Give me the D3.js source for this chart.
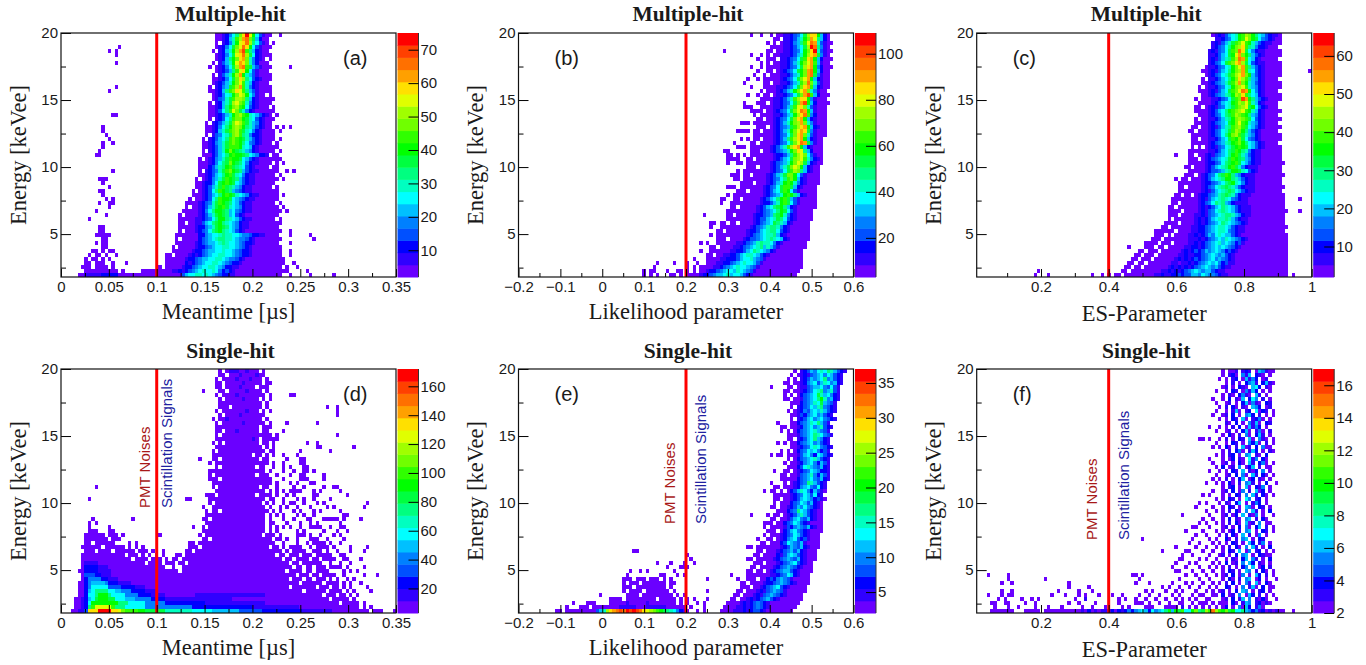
<!DOCTYPE html>
<html>
<head>
<meta charset="utf-8">
<script src="https://cdn.jsdelivr.net/npm/d3@7"></script>
<style>
html, body { margin: 0; padding: 0; background: #fff; overflow: hidden; }
svg { display: block; }
text { fill: #1a1a1a; }
.tick text { font-family: "Liberation Sans", sans-serif; font-size: 15px; }
.ttl { font-family: "Liberation Serif", serif; }
</style>
</head>
<body>
<svg width="1366" height="665"></svg>
<script>
// 20 colour bands of the z palette, bottom to top
var palette = ['#6a00ff','#3000ff','#0000ff','#0050ff','#0080ff','#00c0ff','#00ffff','#00ffc0','#00ff80','#00ff40',
               '#00ff00','#30ff00','#70ff00','#a0ff00','#e0ff00','#ffe000','#ffa000','#ff7000','#ff4000','#ff0000'];

// rows run from E=20 down to E=1.8, tokens are applied left to right:
// "<from>-<to><level>" a run of one band (no letter = a), "<first bin><levels>" a string of bands (. = empty)
var histA = [
"46-62 48bcegimptokgdb 65a",
"46-61 48bcfhlnqrmjfc",
"46-61 48bcehkoprnigdb 63a 47.",
"46-62 47bcegjmorpkgdb 17a",
"45-61 47bcfhknqslifcb 16a 14a 46.",
"46-62 47bcegjoprnjgcb 16a",
"46-62 47bcfikmpqmhecb 61.",
"45-61 47bdfhkoqpmhec 16a 46.",
"44-62 47bcegjnqrljfdb 68a 45.",
"46-61 47bcdfilopkgdb",
"45-62 47bdfhknqkhfdb 46.",
"45-62 47bcegjmpnigdcb",
"45-61 46bcdfhkmolhfcb",
"44-62 46bcefjlnqlhecb 16a 45.",
"44-62 46bcfilmpolifdb 14a",
"45-62 46bceghkmonkgeb 61.",
"45-63 46bdehjlnnmifcb",
"44-62 46bcfhjnomlhecb 45.",
"44-63 46bcfikmnlkgdcb 62.",
"44-63 46bdgilomjhecb",
"44-62 46bcdfhkmnlkhgfdcb 15a 16a 64a",
"44-63 46bcdgilmmkjhgdcb 45.",
"43-62 45bcdfhjmonljhfecb 44.",
"43-64 45bcegikmnmkihfdcb 66a 68a 12a 63.",
"43-63 45bcfhjlmnljhgecb 65a 12a",
"43-63 45bdeghjmnliheccb 13a 44.",
"42-63 44bcdfgilmlkjhfdcb 65a 14a 43.",
"42-64 44bcefhjlmlkigedcb 15a 12a 63.",
"42-64 44bcdfhjlllkhgfcb 12a",
"42-63 44bcdfhkmkjihfecb 65a 11a 43.",
"42-64 45cdfgiklkkjigfeccbb 11a 10a 62.",
"41-64 44bcefhjlkkjgfdcb 65a 42.",
"41-64 44bcegijmkjigecbb 66a 63.",
"41-64 44cdfhikljihgdcb 62.",
"41-64 43bcdehjlmkjifdcbb 15a 67a 69a 42.",
"41-63 43bcdfgikljhgecbb 65a",
"40-64 43bcefhjlkjifdcbb 11a 12a 13a 66a 41.",
"40-63 42bccegjklkjgfdcbb 12a",
"40-64 42bcdfhjljihfecbb 14a 63.",
"39-64 42bcdgilkjifedcbb 11a 12a 40.",
"39-64 42bcdfgiklkjhgfecbb 12a 66a",
"38-64 42bcdgilkkjgfedcbb 13a 15a 39.",
"37-65 41bcdehjlkjigfdcbb 11a 14a 15a 64.",
"37-64 41bcdfhjkljhgfecbb 14a 66a 38.",
"36-65 41bcegikkjifgedcbb 10a 67a",
"35-64 41bcdfhjkjifgdcb 13a 36.",
"35-65 40bbcdegikkihgfdcbb 8a 64.",
"35-65 40bbdfgijkihgfecbb 37.",
"35-64 40bccefhjkjigfecbb 11a 12a",
"35-65 40bcdegijkihgfdcb 11a 12a 68a 36.",
"34-64 41ccefgghihhggfeedccbb 10a 11a 12a 13a 14a 68a 74a",
"34-65 41cdefghiihhgfeedcb 12a 13a 75a 35.",
"34-64 40bcdeffghihggfedccb 10a 12a 13a 68a",
"33-65 40bccdefgghhggfedcb 12a 13a 34.",
"33-65 39bccdeffgghggfedccb 9a 10a 12a 14a 15a 68a",
"31-65 38bcbcdefgghhggfedccb 8a 10a 11a 13a 16a 68a 33.",
"31-66 37bccdeffgghhgfeedcb 7a 9a 10a 12a 14a",
"31-66 37cbcdefgghhgfedccb 7a 8a 10a 11a 12a 15a 19a 69a",
"29-64 36bccdefgghhgfeccbb 6-8 10-13 15a 65a 67a 70a 30.",
"7-9 10-16 18a 24-65 33bbcbcdefghgghgecdcb 66a 67a 73a",
"5-35 7-11b 12-16c 36-65 36dfgghhghgfedccbb 68a 74a 81a"
];

var histB = [
"75-92 79bbcdegjnppkfc 69a 72a 76.",
"76-92 79bbcdfhkmqoifc 78.",
"74-93 79bbcefilorqhdb 75. 77.",
"75-92 79bbcdfgjntrieb",
"74-93 79bbcdegkmpthdb 61a 76.",
"74-92 78bbbcdfhknpqjeb 69a 72a 75.",
"74-93 78bbcdegjlpqkfc 71a 77.",
"74-92 78bbcdfhkmoqlfb 72a 75.",
"74-93 78bbcdegjnpqkec 69a 72a",
"74-92 78bcdegjkmqrkfc 71a 76.",
"73-92 78bbcdfhkmqrjeb 70a 74.",
"73-92 78bcdegjmoqkfcb 68a 71a",
"73-92 78bbcdfhlnrmhdb 67a 75.",
"73-92 77bbcdegjmpqlfcb 69a",
"72-91 77bcdfhkmoqmheb 73.",
"73-92 77bbcdegjmqslfc 68a 71a 75.",
"72-91 76bbcdfhlnppkeb",
"72-92 76bbcdegjmqskfc 67a 71a 74.",
"72-91 76bbcdfilopmhdb 67a 68a 69a",
"72-91 76bcdegjmorqkfb 69-71 73.",
"72-91 76bbcdfhknprlec 70a",
"71-91 76bcdegjmpqkfcb 73.",
"71-91 76bcdfhkmnqmheb 66a 67a 68a 70a",
"71-91 76bcdefjlnpqkfcb 74.",
"71-91 76bcdfhkmoqpjeb 65a 66a 67a 68a 70a 72.",
"70-91 76bcdegjmpqmhdb",
"70-90 76bcdfilnpqkfcb 66a 68a 72.",
"69-90 76bcdegjmorqjeb 64a 71.",
"69-90 75bcdfhlnpqkfcb 65a 66a 67a",
"69-90 75bcdefhkmpoifc 61a 62a 72.",
"69-90 76bccdfilnomgdb 62a 63a 65a 67a",
"68-90 76bcdfgjmnolhecb 62a 63a 64a 65a 70.",
"68-90 75bcdefhkmonjfcb 62a 65a 66a",
"68-89 75bcdfhjmonkfcb 71.",
"67-89 75bcdegjlnmifcb 65a",
"67-89 74bcdfhjmmkgdb 63a 64a 65a 69.",
"67-89 74bcdegilmkfcb 64a 65a",
"66-89 74bcdfhklkhecb 70.",
"66-88 73bcdegjlljfcb 62a 63a 64a",
"65-88 73bcdfgjlkgdb 68.",
"64-88 73bcdefhklkifcb 62a",
"64-88 72bcdfgikljfdb 60a 61a 66.",
"63-88 72bccdfhkljgdb 60a",
"63-88 71bcdfgijkifcb 65.",
"62-87 71bcdefgikjgdb",
"62-87 70bccdefijkhecb 55a 64.",
"62-87 70bcddfghjigdcb",
"60-86 70bcdefgjihfcb 57a 58a 62. 65.",
"60-86 69bcdefhiihecb 57a",
"59-86 68bccdfghiigdcb 61.",
"59-86 68bcdefghhifcb 57a",
"59-86 67bcddefghihgfcb 62.",
"59-85 65bbcdefhihhgecb 54a 56a",
"57-85 64bbcdefghifhfdb 59.",
"57-84 63bbccdfgihgfecb 54a",
"56-84 61bbccdfghhgfdcb 58.",
"56-84 60bbcccdfgghfedb 52a",
"56-84 59bbccdefghggfdb 41a 46a 50a 53a",
"54-84 58bbcdefghggfedb 40a 50a 52a",
"52-83 56bccdefggfhgfedb 37a 39a 40a 44a 47a 48a 50a 53.",
"50-82 54bccdeffghfggfdcb 37a 39a 41a 45a 46a 48a"
];

var histC = [
"71-90 71bcbdfghklnmkigfdcbb 70a",
"71-90 71bbcdeghklomkjgedcb",
"70-90 70bcbdfhjlmolkhfdcbb",
"70-90 70bcdegikmnpliheccb 90.",
"69-90 69bcbdegjlmrpjgecbb",
"69-90 69bbcdfgjkoqmkifdcb",
"69-89 69bcbdfhilnrqlgfcb",
"68-90 69bcdegjlmpqnjgdcbb 68.",
"68-90 69bbcdeghkmoqlifdcb",
"67-90 69bcbdfgikmnqlhgdcb 99a",
"68-90 69bcdeghjlnoqmkfdcb",
"67-89 69bbcdfgikmpnlifecb 68.",
"67-90 69bcdefhjlnqmkhfdcb",
"66-90 69bbcdeghkmnolhfecb 67.",
"66-89 69bcbdfgjlmorqkgecb",
"67-90 69bcdefhiknmpligfcb",
"65-90 70bbcdegjlmsqkifdcb 66.",
"66-89 70bcdfghklnmolhfcb",
"65-89 69bcbdeghjlmnojkgdcb 67.",
"65-90 69bcdfgiklmnolkhfcb",
"66-89 69bcdegijlnmlkifecb",
"65-90 69bbcdfhikmnmljgdcb 66.",
"65-89 69bcdefgjkmolkhfecb",
"64-90 69bcbdfhilmnljgfdcb 66.",
"63-89 69bcdeghjlnmkifdcb 65.",
"64-90 69bcdegikmnljhfecb",
"64-90 69bbcdfgjlkmjgedcb 66.",
"64-89 69bcdefhiklmkigfdcb",
"64-90 69bcbdeghjklkjgfdcb 65. 67.",
"63-90 69bbcdfgijlkihecbb",
"63-90 68bcbdefgikljhfdcbb 59a 65.",
"63-90 68bcdefghjlkjifecbb 66.",
"63-91 68bccdegijkljgfdcbb",
"62-90 68bcdfghikljhecbbb 64.",
"63-90 68bcddefhikkjhgdcb",
"62-91 67bcdegijlkifecbbb 65.",
"61-90 67bcdfghikkihfdcbb 59a 63.",
"60-90 67bccdefgijkhgecbb",
"60-91 67bcdeghijihfdcbbb 62.",
"60-90 67bcbdfghijigfdcbb",
"59-91 66bccdefhijihecbbb 61. 64.",
"58-91 66bcbdfghihgedcbb 96a",
"58-91 66bcdegihifecbbbb 60.",
"57-91 66bcbcdfgihgfdcbbb 59.",
"57-92 66bcbdeghihgfdcbbb 96a 61.",
"57-91 65bbcbdefghiihfecbb 60.",
"57-91 65bcbcdfghhihfdcbb 58.",
"56-91 65bcbcdefgihgfedcb 60.",
"55-92 64bbccdefghhgfdcbb 57.",
"53-91 64bbccdefghhgedcbb 59.",
"53-92 63bbcbcdfeghgffdcb 56. 58.",
"52-92 63bbbcbcdefgfhgfedcb 55.",
"50-92 63bbcbcdefghfgfecdb 54. 58.",
"50-92 62bbccbcdefgfgfedcb 45a 53. 56.",
"48-92 61bcbcdcdfefgfecdcb 50. 54.",
"47-92 60bbcbbccdefgfefdcb 49. 53.",
"46-92 59bcbcbcdcdefgefedcb 48. 52.",
"45-92 58bbabbcbcdefgfgecdbb 47. 50.",
"44-92 57bcbcbcbcdefgfefdcbb 46. 49.",
"43-92 55bbcbcbcdefgfeffdcbb 18a 45.",
"41-92 53bbcbbccdcddffegfeedcbb 17a 21a 34a 37a 39a 94a 43."
];

var histD = [
"47-60 50-52b 55b 48. 59.",
"47-60 53b 58b 49.",
"46-61 47. 52b 56b 60.",
"47a 46a 49-59 61a 62a 54b",
"46a 47a 49-60 61a 53b 58.",
"42a 47-59 61a 55b 49.",
"46a 48-60 62a 68a 69a 52b",
"47-60 62a 54b 48. 59.",
"47a 48-58 59a 61a",
"47-59 61a 79a 82a 50.",
"46-60 62a 82a 55b 47. 59.",
"47-60 82a 53b 48.",
"45a 47-61 49b 60.",
"46-60 62a 54b 67a 76a 47.",
"46-58 60-62",
"46-61 66a 52b 48. 59.",
"46-60 61a 62a 64a 82a 47.",
"46-58 60-62 63a 64a 57b",
"45a 47-61 63a 73a 76a 48. 59.",
"46-58 59a 61a 63a 76a 77a 87a",
"45-60 62a 63a 71a 80a 46.",
"45-59 61a 63a 66a 70a 57.",
"41a 45-58 60a 61a 67a 71a 72a 47.",
"44a 46-60 61a 63a 66a 72a 71a",
"46-60 63a 66a 68a 72a 73a 47. 58.",
"44-59 60a 62a 66a 69a 72a 73a 75a",
"44-60 61a 64a 68a 71a 72a 78a 45. 58.",
"44-60 61a 62a 66a 71-73 78a 47.",
"45-60 61a 62a 64a 68a 70a 74a 75a",
"10a 45-60 61a 64a 69a 72a 78a 81a 82a 46. 59.",
"46-60 62a 64a 66a 68-70 71a 75a 77a 83a",
"43a 44-60 61-62 64a 67a 69a 75a 76a 85a 46. 58.",
"8a 37a 38a 44-60 62a 63a 66a 70a 72a 75a 80a",
"44-61 63a 66a 68a 69a 72a 76a 78a 91a 45. 60.",
"42a 45-60 62a 65a 67a 70a 74a 79a 81a 90a",
"43-61 63a 65a 69a 71a 75a 77a 83a 44. 47.",
"43-62 64a 66a 70a 72a 75a 84a 85a 61.",
"9a 21a 42-60 62a 66a 69a 73a 74a 78-82 84a 89a 44.",
"10a 8a 43-60 62a 63a 67a 71a 74a 76a 83a",
"8a 14a 39a 42-62 64a 66a 68a 71a 74-77 80a 83a 84a 43. 61.",
"8-10 14a 15a 42-60 62a 64a 70a 72a 78a 82a 85a",
"7-12 14-16 18a 29a 41-63 65a 70-72 74a 77a 81a 83a 42. 60.",
"7-13 15-17 42-65 67a 70a 74-76 79a 84a 44. 63.",
"7-15 20a 22a 38-63 66a 70a 73a 75-78 80a 83a 40. 9.",
"6-18 20a 22a 24a 38-64 66a 68-71 74a 76-79 81a 86a 91a 12. 41. 62.",
"7-21 23-25 27a 30a 37-65 67a 69-72 75-77 79a 82a 86a 90a 10. 15. 39.",
"6-18 20-22 24a 26a 28a 30a 34-66 68-74 76-80 83a 84a 36. 64. 71.",
"6-20 22-25 27-29 31a 33-68 70-76 78-81 84a 85a 89a 35. 66. 74.",
"6-24 26-29 31-33 35-70 72-77 80a 83a 86a 7-10b 37. 68.",
"6-30 33a 36-71 73-78 80-83 85a 90a 7-10c 11-13b 69. 75.",
"5-34 36-74 76-79 84a 86a 88a 7-10c 11-14b 72. 67.",
"6-76 7-14b 7-11c 7-9d 78-81 84a 90a 94a 70. 74.",
"6-78 7-16b 7-13c 8-11e 80a 82a 85a 87a 72. 68. 75.",
"5-77 7-20b 7-16c 8-13e 9-12f 79-82 84a 86a 89a 71.",
"5-82 7-24b 7-21c 8-17d 8-13e 9-13g 84a 86a 91a 68. 76. 80.",
"5-83 7-28b 7-24c 8-20e 8-17f 9-15g 10-13i 85a 87a 92a 79. 72.",
"5-84 7-30b 7-26c 8-22e 8-18g 10-14i 11-13k 40-60b 86a 88a 78. 82.",
"4-85 6-42b 7-30c 8-26e 8-21f 9-18g 10-15j 11-13k 34-50b 87a 80.",
"4-87 6-60b 7-42c 8-30e 8-24g 9-19i 9-16k 88a 90a 83.",
"4-88 6-70b 7-56c 8-38e 8-24g 8-18i 9-15l 10-14o 90a 92a",
"3-91 5-6b 7-64d 8-52f 8-44g 8-38h 8-30j 8-24k 8-10p 11-14t 15-16p 17o 18m 19-22l 60-72c 72-80b 93-95 99a"
];

var histE = [
"82-93 84bcdfeghgihfdcb 83.",
"81-93 84bcbdefgegfdcb 82.",
"80-93 84bcdfefgiefdcb 81. 83.",
"80-93 84bcefgdfhgefcb 79a 81.",
"80-92 84bbdeffgedgdb 75a 82.",
"79-93 84bcdeghiefhdb 81.",
"79-93 84cdefgjhfgecb 80. 82.",
"79-93 84bdefgikhefcb 81.",
"81-92 84cdefhgjfedb",
"81-92 83bcdegfhiedcb 82.",
"80-93 83bcedfgfhfdcb 81.",
"81-92 83bdcefgefdcb",
"81-93 83bcdfgefgedcb 82.",
"81-92 83cdefhgifdb 77a",
"81-92 83bcefgefhdcb 78a 79a",
"80-92 83cdefghfedb 78a 81.",
"80-92 83bdefgihgedb",
"80-92 83bcdfgifecb 82.",
"79-92 83cdefgefdcb 77a 80.",
"81-92 83bcdeghgedcb",
"80-92 83cdegfgecdb 78a 81.",
"80-92 83bdfgecgfdcb 75a 77a 78a",
"80-92 83cdefghfdcb 81.",
"79-91 83bcefgecfdb 80.",
"80-91 83cdghfedfcb",
"79-91 83bcdegfeccb 76a 81.",
"78-91 83bdefhecfdb 80.",
"78-91 83cdefgedfcb",
"79-91 82bcdeihfdcb 75a 80.",
"79-90 82bcefgedgcb 76a 77a",
"78-91 81cdfhgecfdb 73a 75a 76a 79.",
"78-90 81bcdegfdgcb 76a 77a",
"76-91 81bcdfgfecdb 78.",
"76-90 81cdegfdfcb 77.",
"75-90 80bcdfegedcb 77.",
"77-90 80cdeigfdcb",
"76-90 80bcdfhfdcb 69a 74a 78.",
"75-90 80bdfgedfcb 77.",
"74-90 79cdegfdcb 73a 76.",
"75-90 79bdcefedfcb 73a",
"74-90 79cdfgedcb 77.",
"75-89 78bcdegfdcb 73a",
"74-89 78bcefgdcdb 71a 76.",
"72-89 78cdgfedfb 74.",
"72-89 78bcdfedfcb 68a 69a 71a",
"71-88 77bcdefdfcb 34a 35a 73.",
"70-88 77cbdfgfdcb 50a 72.",
"71-88 76bcdefedfcb 68a 69a 51a",
"70-87 76abcdefgdcb 41a 45a 49a 52a 73.",
"69-87 76bcdefedcb 44a 48a 49a 50a 71.",
"68-87 75bcdeffdcb 33a 36a 38a 46a 70. 73.",
"68-86 75bbcdegfcb 32a 42a 43a 47a 49a 63a",
"68-86 74cdcefedb 31-33 35-37 39-41 43a 45a 56a 65a 71.",
"66-86 73bccdefedcb 31a 33-35 37-43 45-46 68.",
"66-85 72bcdefgdcb 31-33 35-43 45a 69.",
"65-85 71bcbdefedb 31a 33-36 38-44 46a 56a 67.",
"64-84 70bcbdefedcb 24a 32-35 37-45 47a 49a 66.",
"63-84 68bcbcdefdcb 27-30 32-40 42-46 48a 50a 52a 56a 65.",
"62-83 66bcbcdedcb 16a 20-22 27-46 32b 38b 48a 50a 53a 55a",
"61-82 65bbcbcdedcb 14a 18-20 22-48 30-34b 38-43b 49a 51a 55a",
"11a 12a 14-22 23d 24f 25h 26n 27p 28q 29r 30s 31r 32t 33s 34t 35s 36r 37p 38o 39n 40m 41l 42k 43j 44i 45h 46g 47e 48c 49b 50a 53a 55a 60-81 64bbbcbcddcb"
];

// bins 72-87 hold the main band, side tokens hold the thin edges
var histF = [
"72.a.aab.bcb.afeb.a 87a",
"73a.bca.ebf.cba.a",
"72a.a.bc.afbec.ab",
"74a.b.a.cefb.cfba",
"73ab.a.cba.fgc.ba",
"71a 74a.cb.aebfc.a.a",
"72.a.ba.ceba.fb.a",
"70a 73a.c.baf.cge.b.a",
"71a 73.ab.a.cfaeba.cb",
"72a.b.ca.ba.fec.ab",
"71a 74a.bfa.bc.gacb.a",
"70a 72.ab.c.a.efc.b.a 88a",
"72a.a.cb.fa.bcea.a 87a",
"73.ba.c.a.ebfa.cb",
"69a 72a.a.b.c.afbec.a 86a",
"71a 74ab.a.cfa.bea.b",
"72.a.ca.b.ea.cfb.a",
"66a 67a 69a 72a.b.a.cb.fa.eba 88a",
"71a 73.a.cb.a.ecfa.b.a",
"70a 72a.ca.b.fab.c.ea 87a",
"72.a.b.cea.bfc.a.b 88a",
"71a 73a.bc.a.ef.ba.c",
"69a 72.a.ac.ba.gbe.ca 86a",
"70a 73ab.a.ca.fb.cea.a",
"71a 72.c.ab.e.acf.b.a 87a",
"69a 72a.a.cb.f.bac.e.a",
"71a 73.ab.c.ea.fb.ca 88a",
"70a 72a.b.a.cf.ac.ba.a 85a",
"68a 71a 73a.ca.b.efb.a.c 89a",
"72.a.bc.a.fa.cbe.a 87a",
"70a 73ab.c.ae.b.fac.a",
"67a 69a 72.a.a.cb.e.fb.ca 88a",
"71a 73a.cb.a.ge.bc.a",
"66a 68a 72a.ba.cf.a.bec. 86a",
"65a 70a 72.a.cb.a.fea.cb 87a",
"68a 71a 73a.b.ca.e.fb.a.c",
"61a 69a 72.ab.ac.f.bae.a 88a",
"67a 70a 73a.c.ba.ef.b.ca",
"66a 68a 71a 72.a.b.ca.fab.e.a 87a",
"64a 65a 69a 73ab.a.c.ea.cf.b.a",
"62a 67a 71a 72.a.ac.b.ef.a.cb 88a",
"65a 68a 72a.b.ca.f.b.ae.a 86a",
"49a 64a 69a 71a 73.ca.b.ef.a.cb.",
"63a 66a 70a 72a.a.cb.a.fc.be.a 87a",
"59a 65a 68a 71a 73a.b.ca.e.fb.a.c",
"55a 62a 63a 67a 70a 72.a.cb.f.ae.bc.a 88a",
"61a 64a 69a 72ab.a.c.ef.a.cb.a 86a",
"60a 61a 66a 68a 71a 73.a.ba.cf.eb.a.c",
"59a 63a 65a 70a 72a.c.ab.e.fc.ba.a 87a",
"58a 62a 66a 69a 71a 73a.b.a.ce.f.ac.b",
"59a 60a 64a 67a 70a 72.a.cb.a.fe.b.ca 88a",
"3a 9a 46a 47a 49a 62a 65a 68a 71a 73ab.c.ae.a.fc.b.a",
"9a 20a 48a 60a 66a 69a 72.a.ca.b.ef.ac.a 89a",
"7a 10a 27a 47a 51a 58a 62a 64a 67a 70a 72a.b.c.a.eb.fa.c 87a",
"27a 33a 55a 57a 60a 63a 66a 69a 71a 73.cb.a.e.bfa.c.a 88a",
"7a 10a 24a 30a 34a 50a 52a 56a 59a 61a 65a 68a 70a 72ab.a.c.fe.a.bc.a",
"3a 7a 9a 10a 22a 26a 30a 32a 36a 40a 43a 48a 51a 54a 58a 60a 64a 66a 67a 70a 71a 73c.ab.e.afc.b.a 88a",
"6a 8a 13a 16a 18a 29a 32b 42a 44a 47a 50a 53a 56a 59a 61a 63a 65a 68a 69a 72.ab.c.bf.e.bac. 86a 89a",
"73aa.ca.bfe.bcab 4a 5a 8a 9a 14a 17a 27a 30a 35a 42a 47-49 51a 54a 57a 60a 61a 64a 66-68 70a 72a 87a",
"73ac.a.eafc.bea. 5a 9a 12a 17a 21a 25a 31a 34a 38a 43a 45a 50-52 56-59 61b 63a 65a 67a 69a 71a 85a",
"4-6 7-9 10a 14-18 20-23 24-30 31b 32a 33c 34a 35b 36a 37-39b 40c 41a 42c 43b 44c 45e 46c 47e 48f 49g 50f 51c 52g 53e 54f 55g 56i 57k 58f 59k 60j 61l 62g 63g 64k 65m 66i 67j 68n 69l 70r 71n 72l 73k 74m 75j 76k 77g 78g 79i 80f 81e 82c 83e 84b 85c 86a 87b 88a 89b 90a 91a 94a"
];

// axis setup for each panel
var xDomains = [[0, 0.35], [-0.2, 0.6], [0.01, 1]];
var xMajor = [[0, 0.05, 0.1, 0.15, 0.2, 0.25, 0.3, 0.35],
              [-0.2, -0.1, 0, 0.1, 0.2, 0.3, 0.4, 0.5, 0.6],
              [0.2, 0.4, 0.6, 0.8, 1]];
var xMinor = [[0.025, 0.075, 0.125, 0.175, 0.225, 0.275, 0.325],
              [-0.15, -0.05, 0.05, 0.15, 0.25, 0.35, 0.45, 0.55],
              [0.1, 0.3, 0.5, 0.7, 0.9]];
var xTitles = ['Meantime [\u00b5s]', 'Likelihood parameter', 'ES-Parameter'];
var cuts = [0.1, 0.2, 0.4];
var rowTitles = ['Multiple-hit', 'Single-hit'];
var letters = ['a', 'b', 'c', 'd', 'e', 'f'];
var hists = [histA, histB, histC, histD, histE, histF];
var zRanges = [[2, 75], [3, 109], [2, 66], [3, 172], [2, 37], [2, 17]];
var zTicks = [[10, 20, 30, 40, 50, 60, 70],
              [20, 40, 60, 80, 100],
              [10, 20, 30, 40, 50, 60],
              [20, 40, 60, 80, 100, 120, 140, 160],
              [5, 10, 15, 20, 25, 30, 35],
              [2, 4, 6, 8, 10, 12, 14, 16]];
var yMajor = [5, 10, 15, 20];
var yMinor = [2.5, 7.5, 12.5, 17.5];

var NX = 100, NY = 61;
var lefts = [61, 518.5, 976.7], tops = [33, 369];
var W = 335, H = 244;
var labelX = [282, 36, 36];   // panel letter, from frame left
var noteX = [[84, 106], [151, 182], [115, 147]];
var noteY = [508, 524, 540];

var svg = d3.select('svg');

// turn one hist array into cell records
function parseHist(rows){
    var cells = [];
    rows.forEach(function(s, i){
        var row = {};
        s.split(' ').forEach(function(tok){
            var m = tok.match(/^(\d+)-(\d+)([a-t]?)$/);
            if(m){
                for(var b = +m[1]; b <= +m[2]; b++) row[b] = m[3] ? m[3].charCodeAt(0) - 96 : 1;
                return;
            }
            m = tok.match(/^(\d+)([a-t.]+)$/);
            if(m){
                m[2].split('').forEach(function(c, k){
                    row[+m[1] + k] = c == '.' ? 0 : c.charCodeAt(0) - 96;
                });
            }
        });
        Object.keys(row).forEach(function(b){
            if(row[b] > 0) cells.push({bin: +b, row: NY - 1 - i, level: row[b]});
        });
    });
    return cells;
}

hists.forEach(function(rows, p){
    var col = p % 3, line = Math.floor(p / 3);
    var g = svg.append('g').attr('transform', 'translate(' + lefts[col] + ',' + tops[line] + ')');

    var x = d3.scaleLinear().domain(xDomains[col]).range([0, W]);
    var y = d3.scaleLinear().domain([1.8, 20]).range([H, 0]);
    var xBin = d3.scaleLinear().domain([0, NX]).range([0, W]);
    var yBin = d3.scaleLinear().domain([0, NY]).range([H, 0]);
    var zr = zRanges[p];
    var zColor = d3.scaleQuantize().domain(zr).range(palette);
    var z = d3.scaleLinear().domain(zr).range([H, 0]);
    var step = (zr[1] - zr[0]) / 20;

    g.selectAll('rect.cell')
        .data(parseHist(rows))
        .enter()
        .append('rect')
        .attr('class', 'cell')
        .attr('x', function(d){ return xBin(d.bin); })
        .attr('y', function(d){ return yBin(d.row + 1); })
        .attr('width', xBin(1) - xBin(0))
        .attr('height', yBin(0) - yBin(1))
        .attr('fill', function(d){ return zColor(zr[0] + (d.level - 0.5) * step); })
        .attr('shape-rendering', 'crispEdges');

    // cut line
    g.append('line')
        .attr('x1', x(cuts[col])).attr('x2', x(cuts[col]))
        .attr('y1', 0).attr('y2', H)
        .attr('stroke', '#ff0000').attr('stroke-width', 3);

    // inward ticks, major then minor
    var fmt = d3.format('~g');
    var ax = g.append('g').attr('transform', 'translate(0,' + H + ')')
        .call(d3.axisBottom(x).tickValues(xMajor[col]).tickSize(-8).tickPadding(4.5).tickFormat(fmt));
    var axm = g.append('g').attr('transform', 'translate(0,' + H + ')')
        .call(d3.axisBottom(x).tickValues(xMinor[col]).tickSize(-4).tickFormat(''));
    var ay = g.append('g')
        .call(d3.axisLeft(y).tickValues(yMajor).tickSize(-10).tickPadding(3).tickFormat(fmt));
    var aym = g.append('g')
        .call(d3.axisLeft(y).tickValues(yMinor).tickSize(-5).tickFormat(''));
    [ax, axm, ay, aym].forEach(function(a){ a.select('.domain').remove(); });

    g.append('rect').attr('width', W).attr('height', H)
        .attr('fill', 'none').attr('stroke', '#111').attr('stroke-width', 1.2);

    // colour bar
    var bar = g.append('g').attr('transform', 'translate(' + (W + 1.5) + ',0)');
    bar.selectAll('rect')
        .data(palette)
        .enter()
        .append('rect')
        .attr('x', 0)
        .attr('y', function(c, i){ return z(zr[0] + (i + 1) * step); })
        .attr('width', 21)
        .attr('height', z(zr[0]) - z(zr[0] + step) + 0.5)
        .attr('fill', function(c){ return c; });
    var az = bar.append('g').attr('transform', 'translate(21,0)')
        .call(d3.axisRight(z).tickValues(zTicks[p]).tickSize(-10).tickPadding(2));
    az.select('.domain').attr('stroke', '#333').attr('d', 'M0,0V' + H);

    // texts
    g.append('text').attr('class', 'ttl')
        .attr('x', W / 2 + 2).attr('y', line == 0 ? -12 : -11.5)
        .attr('text-anchor', 'middle')
        .attr('font-size', 21.5).attr('font-weight', 'bold')
        .text(rowTitles[line]);
    g.append('text').attr('class', 'ttl')
        .attr('x', W / 2).attr('y', H + (col == 2 ? 44 : 41.5))
        .attr('text-anchor', 'middle')
        .attr('font-size', 22.5)
        .text(xTitles[col]);
    g.append('text').attr('class', 'ttl')
        .attr('transform', 'translate(-35.5,' + (H / 2) + ') rotate(-90)')
        .attr('text-anchor', 'middle')
        .attr('font-size', 22.5)
        .text('Energy [keVee]');
    g.append('text')
        .attr('x', labelX[col]).attr('y', 32)
        .attr('font-family', 'Liberation Sans').attr('font-size', 20)
        .text('(' + letters[p] + ')');

    if(line == 1){
        var bottom = noteY[col] - tops[1];
        g.append('text')
            .attr('transform', 'translate(' + (noteX[col][0] + 5) + ',' + bottom + ') rotate(-90)')
            .attr('font-family', 'Liberation Sans').attr('font-size', 15)
            .style('fill', '#a81818')
            .text('PMT Noises');
        g.append('text')
            .attr('transform', 'translate(' + (noteX[col][1] + 5) + ',' + bottom + ') rotate(-90)')
            .attr('font-family', 'Liberation Sans').attr('font-size', 15)
            .style('fill', '#2020a0')
            .text('Scintillation Signals');
    }
});
</script>
</body>
</html>
